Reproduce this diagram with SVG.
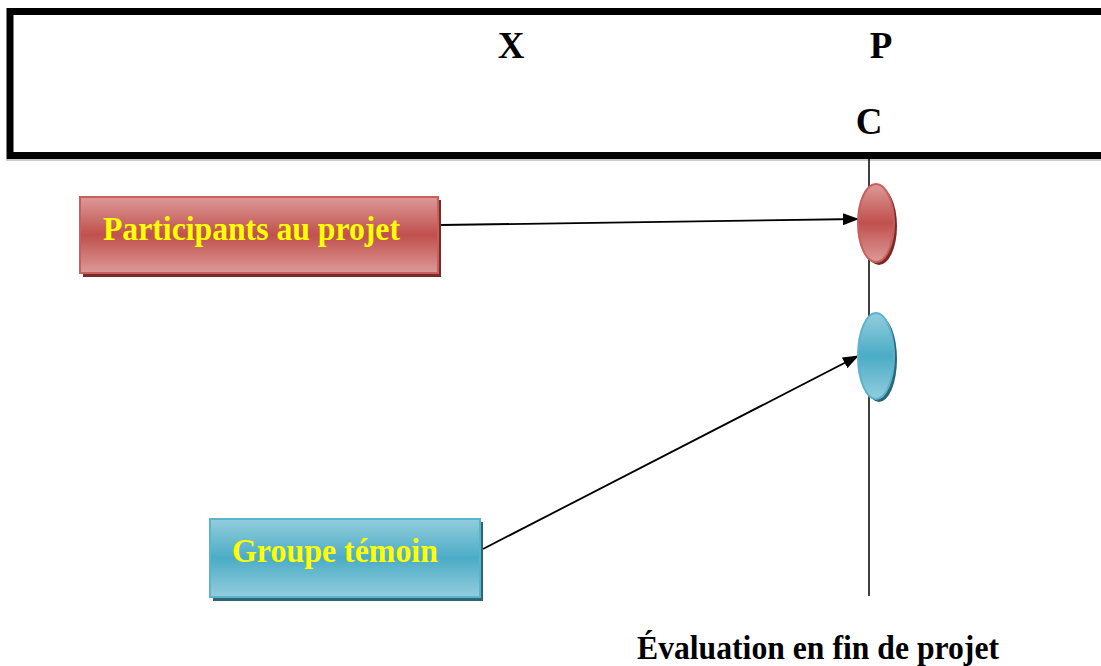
<svg xmlns="http://www.w3.org/2000/svg" width="1101" height="666" viewBox="0 0 1101 666">
<style>
.hdr{font-family:"Liberation Serif","Times New Roman",serif;font-weight:bold;font-size:37px;fill:#000}
.lbl{font-family:"Liberation Serif","Times New Roman",serif;font-weight:bold;font-size:34px;fill:#ffff00}
.cap{font-family:"Liberation Serif","Times New Roman",serif;font-weight:bold;font-size:34px;fill:#000}
.conn{stroke:#000;stroke-width:1.8;fill:none}
</style>
<defs>
<linearGradient id="gRed" x1="0" y1="0" x2="0" y2="1">
<stop offset="0" stop-color="#dc9a98"/>
<stop offset="0.5" stop-color="#c0504d"/>
<stop offset="1" stop-color="#dc9a98"/>
</linearGradient>
<linearGradient id="gBlue" x1="0" y1="0" x2="0" y2="1">
<stop offset="0" stop-color="#93cddd"/>
<stop offset="0.5" stop-color="#4bacc6"/>
<stop offset="1" stop-color="#93cddd"/>
</linearGradient>
<marker id="arr" markerWidth="16" markerHeight="12" refX="15" refY="6" orient="auto" markerUnits="userSpaceOnUse">
<path d="M0,0 L16,6 L0,12 Z" fill="#000"/>
</marker>
</defs>

<g id="header">
<line x1="6" y1="160" x2="1101" y2="160" stroke="#999" stroke-width="1"/>
<rect x="10" y="11.5" width="1200" height="144" fill="#fff" stroke="#000" stroke-width="7"/>
<text class="hdr" x="511" y="58" text-anchor="middle">X</text>
<text class="hdr" x="881" y="58" text-anchor="middle">P</text>
<text class="hdr" x="869" y="134" text-anchor="middle">C</text>
</g>

<g id="timeline">
<line x1="869" y1="157" x2="869" y2="596" stroke="#000" stroke-width="1.5"/>
</g>

<g id="connectors">
<line class="conn" x1="441" y1="225" x2="858" y2="219" marker-end="url(#arr)"/>
<line class="conn" x1="483" y1="549" x2="858" y2="356" marker-end="url(#arr)"/>
</g>

<g id="node-participants">
<rect x="83" y="200" width="358" height="77" fill="#7b2a28"/>
<rect x="80" y="197" width="358" height="76" fill="url(#gRed)" stroke="#c85f5c" stroke-width="2"/>
<text class="lbl" x="103" y="240" textLength="297" lengthAdjust="spacingAndGlyphs">Participants au projet</text>
</g>

<g id="node-temoin">
<rect x="213" y="522" width="270" height="79" fill="#2b6576"/>
<rect x="210" y="519" width="270" height="78" fill="url(#gBlue)" stroke="#5ab4cc" stroke-width="2"/>
<text class="lbl" x="232" y="562" textLength="206" lengthAdjust="spacingAndGlyphs">Groupe témoin</text>
</g>

<g id="ellipse-red">
<ellipse cx="879" cy="226" rx="18" ry="39" fill="#7b2a28"/>
<ellipse cx="876" cy="223" rx="18" ry="39" fill="url(#gRed)" stroke="#c85f5c" stroke-width="2"/>
</g>

<g id="ellipse-blue">
<ellipse cx="879" cy="359" rx="18" ry="43" fill="#2b6576"/>
<ellipse cx="876" cy="356" rx="18" ry="43" fill="url(#gBlue)" stroke="#5ab4cc" stroke-width="2"/>
</g>

<g id="caption">
<text class="cap" x="637" y="659" textLength="362" lengthAdjust="spacingAndGlyphs">Évaluation en fin de projet</text>
</g>
</svg>
